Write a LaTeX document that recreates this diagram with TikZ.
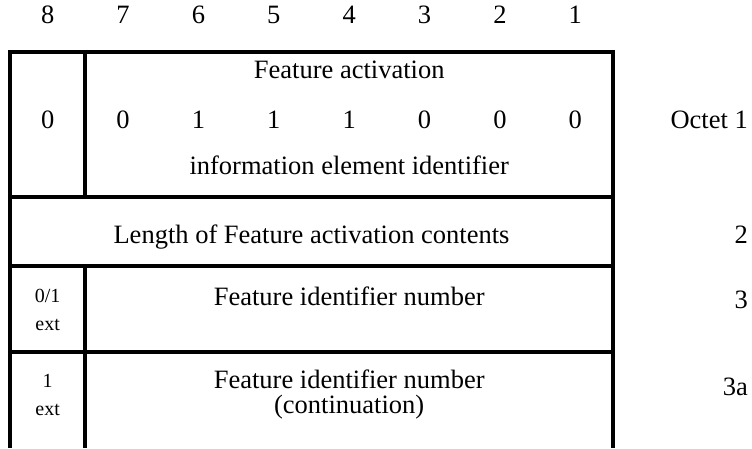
\documentclass[tikz,border=0pt]{standalone}
\usepackage{fontspec}
\setmainfont{Liberation Serif}
\begin{document}
\begin{tikzpicture}[x=1pt,y=-1pt,font=\fontsize{26.5}{30}\selectfont]
			\def\L{10} % left edge
			\def\Rt{613} % right edge
			\def\W{75.375} % one bit
			\def\D{85.4} % bit 8 / bit 7
			\useasboundingbox (0,0) rectangle (752,448);
			\coordinate (TL) at (\L,52);
			\coordinate (TR) at (\Rt,52);
			\coordinate (BL) at (\L,448);
			\coordinate (BR) at (\Rt,448);
			\coordinate (A1) at (\L,197);
			\coordinate (A2) at (\Rt,197);
			\coordinate (B1) at (\L,266);
			\coordinate (B2) at (\Rt,266);
			\coordinate (C1) at (\L,352);
			\coordinate (C2) at (\Rt,352);
			\coordinate (D1) at (\D,52);
			\coordinate (D2) at (\D,197);
			\coordinate (D3) at (\D,266);
			\coordinate (D4) at (\D,448);
			\draw[line width=4pt] (BL) -- (TL) -- (TR) -- (BR);
			\draw[line width=4pt] (A1) -- (A2);
			\draw[line width=4pt] (B1) -- (B2);
			\draw[line width=4pt] (C1) -- (C2);
			\draw[line width=4pt] (D1) -- (D2);
			\draw[line width=4pt] (D3) -- (D4);
			% bit numbers
			\node[anchor=base] (b8) at ({\L+0.5*\W},23) {8};
			\node[anchor=base] (b7) at ({\L+1.5*\W},23) {7};
			\node[anchor=base] (b6) at ({\L+2.5*\W},23) {6};
			\node[anchor=base] (b5) at ({\L+3.5*\W},23) {5};
			\node[anchor=base] (b4) at ({\L+4.5*\W},23) {4};
			\node[anchor=base] (b3) at ({\L+5.5*\W},23) {3};
			\node[anchor=base] (b2) at ({\L+6.5*\W},23) {2};
			\node[anchor=base] (b1) at ({\L+7.5*\W},23) {1};
			% octet 1
			\node[anchor=base] (fa) at ({(\D+\Rt)/2},78) {Feature activation};
			\node[anchor=base] (v8) at ({\L+0.5*\W},128) {0};
			\node[anchor=base] (v7) at ({\L+1.5*\W},128) {0};
			\node[anchor=base] (v6) at ({\L+2.5*\W},128) {1};
			\node[anchor=base] (v5) at ({\L+3.5*\W},128) {1};
			\node[anchor=base] (v4) at ({\L+4.5*\W},128) {1};
			\node[anchor=base] (v3) at ({\L+5.5*\W},128) {0};
			\node[anchor=base] (v2) at ({\L+6.5*\W},128) {0};
			\node[anchor=base] (v1) at ({\L+7.5*\W},128) {0};
			\node[anchor=base] (iei) at ({(\D+\Rt)/2},174) {information element identifier};
			\node[anchor=base east,inner sep=0pt] (o1) at (748,128) {Octet 1};
			% octet 2
			\node[anchor=base] (len) at ({(\L+\Rt)/2},243) {Length of Feature activation contents};
			\node[anchor=base east,inner sep=0pt] (o2) at (748,243) {2};
			% octet 3
			\node[anchor=base,font=\fontsize{20}{24}\selectfont] (x3) at ({(\L+\D)/2},302) {0/1};
			\node[anchor=base,font=\fontsize{20}{24}\selectfont] (e3) at ({(\L+\D)/2},330) {ext};
			\node[anchor=base] (fin) at ({(\D+\Rt)/2},305) {Feature identifier number};
			\node[anchor=base east,inner sep=0pt] (o3) at (748,308) {3};
			% octet 3a
			\node[anchor=base,font=\fontsize{20}{24}\selectfont] (x3a) at ({(\L+\D)/2},387) {1};
			\node[anchor=base,font=\fontsize{20}{24}\selectfont] (e3a) at ({(\L+\D)/2},415) {ext};
			\node[anchor=base] (fin2) at ({(\D+\Rt)/2},388) {Feature identifier number};
			\node[anchor=base] (cont) at ({(\D+\Rt)/2},413) {(continuation)};
			\node[anchor=base east,inner sep=0pt] (o3a) at (748,395) {3a};
		\end{tikzpicture}
\end{document}
